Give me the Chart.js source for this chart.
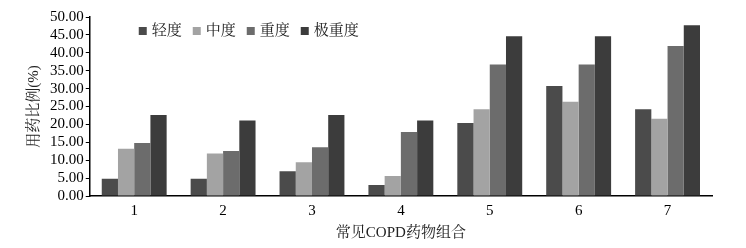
<!DOCTYPE html>
<html>
<head>
<meta charset="utf-8">
<script src="https://cdn.jsdelivr.net/npm/chart.js@4/dist/chart.umd.min.js"></script>
<style>
  html, body { margin: 0; padding: 0; background: #fff; }
  #wrap { width: 746px; height: 248px; }
</style>
</head>
<body>
<div id="wrap"><canvas id="bars"></canvas></div>
<script>
// categories (drug combinations)
const groups = ['1', '2', '3', '4', '5', '6', '7']

// usage ratio (%) by severity
const mild = [4.8, 4.8, 6.9, 3.1, 20.4, 30.7, 24.2]
const moderate = [13.2, 11.9, 9.4, 5.6, 24.2, 26.3, 21.6]
const severe = [14.8, 12.6, 13.6, 17.9, 36.7, 36.7, 41.9]
const verySevere = [22.6, 21.1, 22.6, 21.1, 44.6, 44.6, 47.7]

const seriesNames = ['轻度', '中度', '重度', '极重度']
const seriesColors = ['#4b4b4b', '#a3a3a3', '#6c6c6c', '#3c3c3c']

const serif = "'Liberation Serif', 'Times New Roman', 'Noto Serif CJK SC', 'Noto Sans CJK SC', serif"

// legend drawn in one row inside the plot area, like the original figure
const innerLegend = {
    id: 'innerLegend',
    afterDraw(chart) {
        const c = chart.ctx
        const area = chart.chartArea
        let x = area.left + 49
        const y = area.top + 14
        c.save()
        c.font = '15px ' + serif
        c.textBaseline = 'middle'
        chart.data.datasets.forEach(ds => {
            c.fillStyle = ds.backgroundColor
            c.fillRect(x, y - 4, 8, 8)
            x += 13
            c.fillStyle = '#222'
            c.fillText(ds.label, x, y)
            x += c.measureText(ds.label).width + 11
        })
        c.restore()
    }
}

const ctx = document.getElementById('bars').getContext('2d')
const chart = new Chart(ctx, {
    type: 'bar',
    data: {
        labels: groups,
        datasets: [mild, moderate, severe, verySevere].map((d, i) => ({
            label: seriesNames[i],
            data: d,
            backgroundColor: seriesColors[i],
            borderWidth: 0,
            categoryPercentage: 0.73,
            barPercentage: 1.0
        }))
    },
    plugins: [innerLegend],
    options: {
        responsive: true,
        maintainAspectRatio: false,
        animation: false,
        layout: {
            padding: { left: 25, right: 34, top: 17, bottom: 6 }
        },
        plugins: {
            legend: { display: false },
            tooltip: { enabled: false }
        },
        scales: {
            x: {
                grid: { display: false },
                border: { color: '#000', width: 1.5 },
                ticks: { color: '#000', font: { family: serif, size: 15 }, padding: -2 },
                title: {
                    display: true,
                    text: '常见COPD药物组合',
                    color: '#222',
                    font: { family: serif, size: 15 },
                    padding: { top: 6, bottom: 0 }
                }
            },
            y: {
                min: 0,
                max: 50,
                grid: { drawOnChartArea: false, drawTicks: true, tickLength: 4, color: '#000' },
                border: { color: '#000', width: 1.5 },
                ticks: {
                    stepSize: 5,
                    autoSkip: false,
                    color: '#000',
                    padding: 2,
                    font: { family: serif, size: 15 },
                    callback: v => v.toFixed(2)
                },
                title: {
                    display: true,
                    text: '用药比例(%)',
                    color: '#222',
                    font: { family: serif, size: 15 },
                    padding: { top: 0, bottom: 5 }
                }
            }
        }
    }
})
</script>
</body>
</html>
